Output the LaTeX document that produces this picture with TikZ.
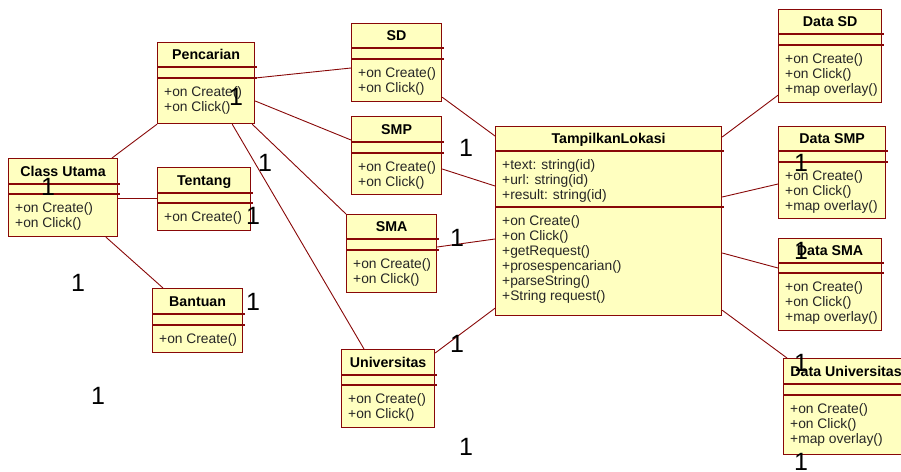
\documentclass[tikz,border=0pt]{standalone}
\usepackage{fontspec}
\setmainfont{Liberation Sans}
\usetikzlibrary{calc}
\definecolor{umlfill}{RGB}{255,255,192}
\definecolor{umlline}{RGB}{136,8,8}
\tikzset{
 clsbox/.style={draw=umlline, fill=umlfill, line width=1.2pt, rectangle, inner sep=0pt},
 clstitle/.style={font=\fontsize{14.2}{16}\selectfont\bfseries, inner sep=0pt, anchor=base},
 member/.style={font=\fontsize{13.8}{15}\selectfont, text=black!85, inner sep=0pt, anchor=base west},
 sepline/.style={draw=umlline, line width=1.2pt},
 assoc/.style={draw=umlline, line width=0.9pt},
 mult/.style={font=\fontsize{25}{25}\selectfont, inner sep=0pt}
}
\newcommand{\umlclass}[8]{%
  \node[clsbox, minimum width=#4pt, minimum height=#5pt, anchor=north west] (#1) at (#2,#3) {};
  \node[clstitle] (#1-t) at ([yshift={-(0.5*#7+5)*1pt}]#1.north) {#6};
  \draw[sepline] ([yshift=-#7pt]#1.north west) -- ([yshift=-#7pt,xshift=1.5pt]#1.north east);
  \draw[sepline] ([yshift=-#8pt]#1.north west) -- ([yshift=-#8pt,xshift=1.5pt]#1.north east);
}
\newcommand{\umlmembers}[4]{%
  \foreach \t [count=\i] in {#4} {\node[member] (#1-#2\i) at ([xshift=7pt,yshift={-(#3+3.5+15*\i)*1pt}]#1.north west) {\t};}
}
\begin{document}
\begin{tikzpicture}[x=1pt,y=-1pt]
\useasboundingbox (0,0) rectangle (901,471);
\clip (0,0) rectangle (901,471);

% classes
\umlclass{pen}{157}{42}{97}{81}{Pencarian}{25}{36}
\umlmembers{pen}{m}{36}{+on Create(),+on Click()}
\umlclass{cu}{8}{158}{109}{78}{Class Utama}{26}{36}
\umlmembers{cu}{m}{36}{+on Create(),+on Click()}
\umlclass{ten}{157}{167}{93}{63}{Tentang}{26}{36}
\umlmembers{ten}{m}{36}{+on Create()}
\umlclass{ban}{152}{288}{90}{64}{Bantuan}{26}{37}
\umlmembers{ban}{m}{37}{+on Create()}
\umlclass{sd}{351}{23}{90}{78}{SD}{25}{36}
\umlmembers{sd}{m}{36}{+on Create(),+on Click()}
\umlclass{smp}{351}{116}{90}{78}{SMP}{26}{37}
\umlmembers{smp}{m}{37}{+on Create(),+on Click()}
\umlclass{sma}{346}{214}{90}{78}{SMA}{25}{36}
\umlmembers{sma}{m}{36}{+on Create(),+on Click()}
\umlclass{tl}{495}{126}{226}{189}{TampilkanLokasi}{25}{81}
\umlmembers{tl}{a}{25}{+text: string(id),+url: string(id),+result: string(id)}
\umlmembers{tl}{m}{81}{+on Create(),+on Click(),+getRequest(),+prosespencarian(),+parseString(),+String request()}
\umlclass{uni}{341}{349}{93}{78}{Universitas}{26}{36}
\umlmembers{uni}{m}{36}{+on Create(),+on Click()}
\umlclass{dsd}{778}{9}{103}{93}{Data SD}{25}{36}
\umlmembers{dsd}{m}{36}{+on Create(),+on Click(),+map overlay()}
\umlclass{dsmp}{778}{126}{107}{92}{Data SMP}{25}{36}
\umlmembers{dsmp}{m}{36}{+on Create(),+on Click(),+map overlay()}
\umlclass{dsma}{778}{238}{103}{92}{Data SMA}{25}{35}
\umlmembers{dsma}{m}{35}{+on Create(),+on Click(),+map overlay()}
\umlclass{duni}{783}{358}{125}{96}{Data Universitas}{26}{37}
\umlmembers{duni}{m}{37}{+on Create(),+on Click(),+map overlay()}

% associations
\draw[assoc] ([xshift=104pt]cu.north west) -- (pen.south west);
\draw[assoc] ([yshift=-40pt]cu.north east) -- ([yshift=-31pt]ten.north west);
\draw[assoc] ([xshift=98pt]cu.south west) -- ([xshift=11pt]ban.north west);
\draw[assoc] ([yshift=-36pt]pen.north east) -- ([yshift=-45pt]sd.north west);
\draw[assoc] ([yshift=-59pt]pen.north east) -- ([yshift=-24pt]smp.north west);
\draw[assoc] ([xshift=-3pt]pen.south east) -- (sma.north west);
\draw[assoc] ([xshift=-23pt]pen.south east) -- ([xshift=23pt]uni.north west);
\draw[assoc] ([yshift=5pt]sd.south east) -- ([yshift=-10pt]tl.north west);
\draw[assoc] ([yshift=-53pt]smp.north east) -- ([yshift=-60pt]tl.north west);
\draw[assoc] ([yshift=-33pt]sma.north east) -- ([yshift=-113pt]tl.north west);
\draw[assoc] ([yshift=-4pt]uni.north east) -- ([yshift=8pt]tl.south west);
\draw[assoc] ([yshift=-11pt]tl.north east) -- ([yshift=8pt]dsd.south west);
\draw[assoc] ([yshift=-71pt]tl.north east) -- ([yshift=-58pt]dsmp.north west);
\draw[assoc] ([yshift=-127pt]tl.north east) -- ([yshift=-30pt]dsma.north west);
\draw[assoc] ([yshift=6pt]tl.south east) -- ([xshift=4pt]duni.north west);

% multiplicities
\node[mult] (n1) at (236,97) {1};
\node[mult] (n2) at (48,187) {1};
\node[mult] (n3) at (265,163) {1};
\node[mult] (n4) at (253,216) {1};
\node[mult] (n5) at (78,283) {1};
\node[mult] (n6) at (253,302) {1};
\node[mult] (n7) at (98,396) {1};
\node[mult] (n8) at (466,148) {1};
\node[mult] (n9) at (457,238) {1};
\node[mult] (n10) at (457,344) {1};
\node[mult] (n11) at (466,447) {1};
\node[mult] (n12) at (801,163) {1};
\node[mult] (n13) at (801,251) {1};
\node[mult] (n14) at (801,363) {1};
\node[mult] (n15) at (801,462) {1};
\end{tikzpicture}
\end{document}
